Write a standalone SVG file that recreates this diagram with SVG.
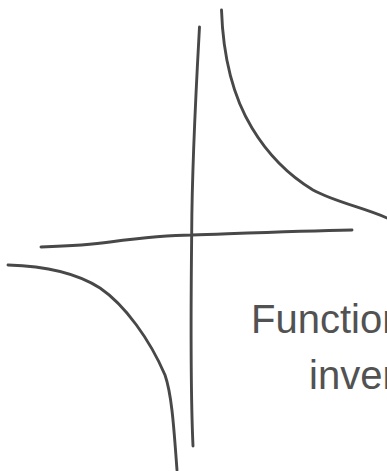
<svg xmlns="http://www.w3.org/2000/svg" width="387" height="471" viewBox="0 0 387 471">
<style>
.s{fill:none;stroke:#484848;stroke-width:2.9;stroke-linecap:round;stroke-linejoin:round}
.t{font-family:"Liberation Sans",Arial,sans-serif;font-size:40px;fill:#525252}
</style>
<rect width="387" height="471" fill="#ffffff"/>
<g id="axes">
<path id="y-axis" class="s" d="M199.5,27 C196,90 192,160 191.7,233 C191,300 190,380 193,446"/>
<path id="x-axis" class="s" d="M41,247 C70,246 90,245 110,242 C140,238 165,235 192,235 C250,233 300,231 352,230"/>
</g>
<g id="curves">
<path id="upper-branch" class="s" d="M221.5,10 C223,55 232,95 252,128 C270,158 290,176 313,190 C335,202 365,208 387,218"/>
<path id="lower-branch" class="s" d="M8,265 C45,266 75,272 100,288 C125,305 150,340 165,375 C172,395 174,430 177,470"/>
</g>
<g id="label">
<text class="t" x="251" y="333">Function</text>
<text class="t" x="309" y="389">inverse</text>
</g>
</svg>
